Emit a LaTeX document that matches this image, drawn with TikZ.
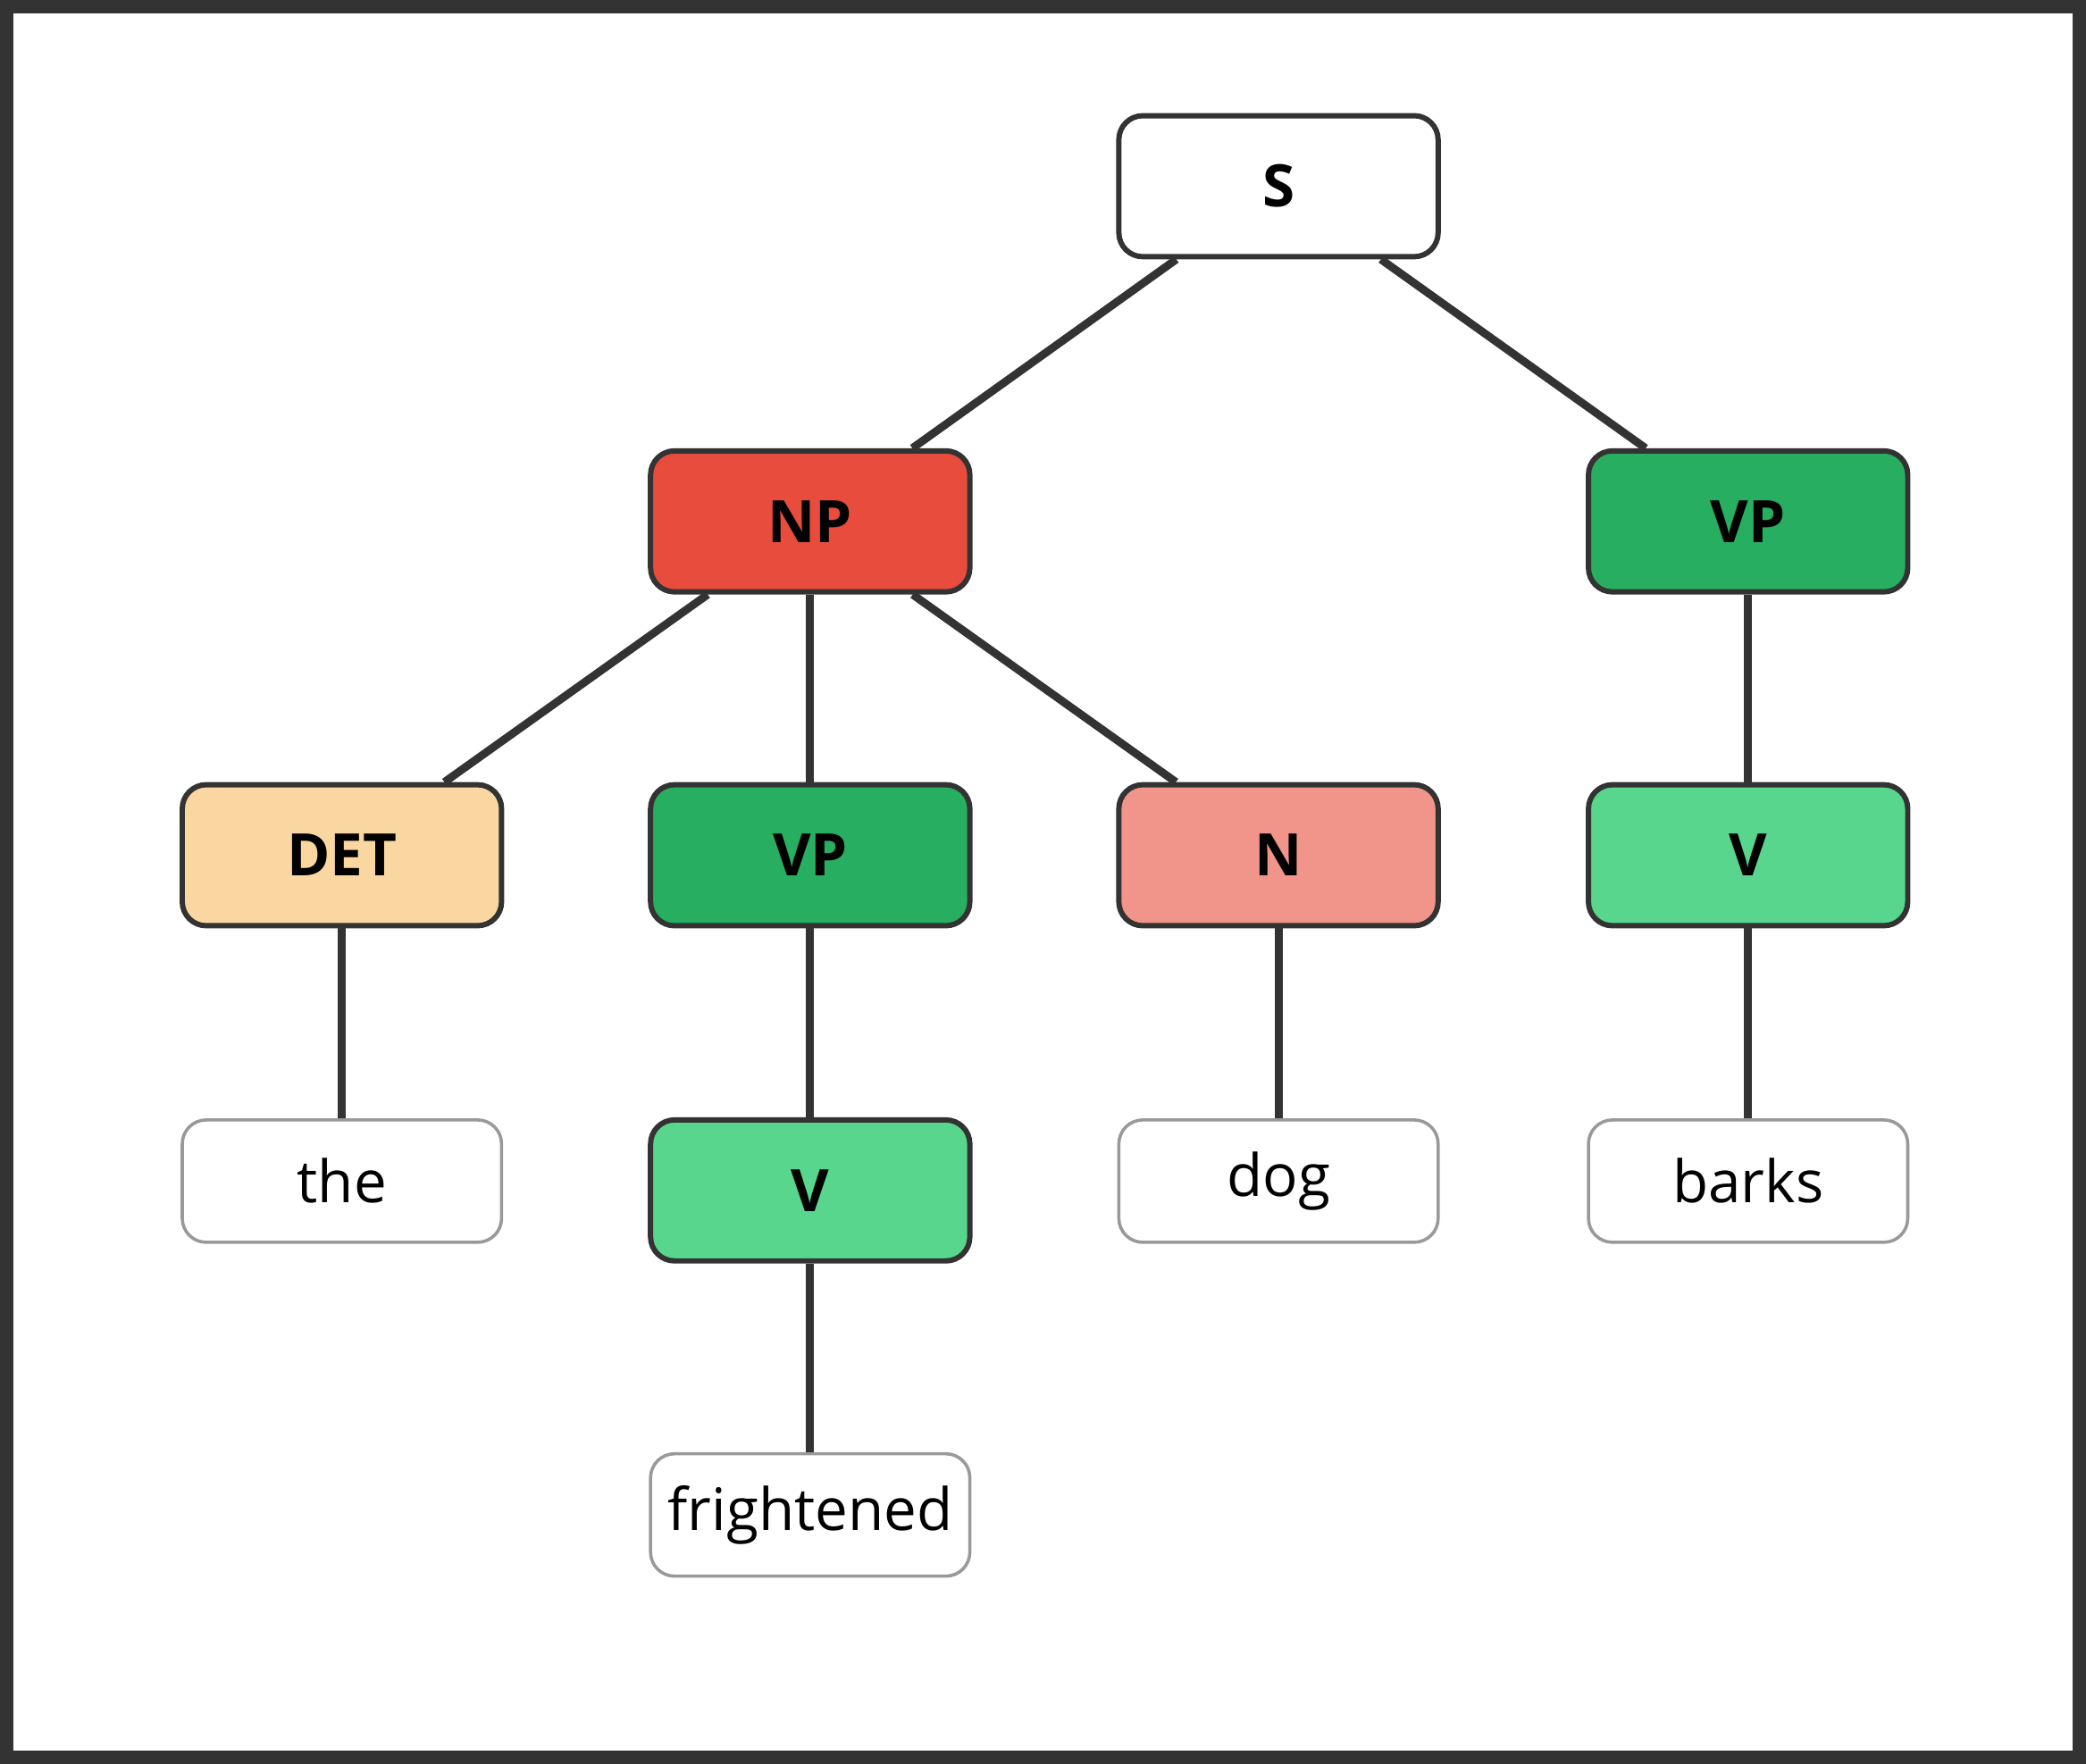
\documentclass[tikz,border=0pt]{standalone}
\usepackage{fontspec}
\setmainfont{Open Sans}
\definecolor{edgegray}{HTML}{333333}
\definecolor{leafgray}{HTML}{999999}
\definecolor{npred}{HTML}{E74C3C}
\definecolor{vpgreen}{HTML}{27AE60}
\definecolor{nred}{HTML}{F1948A}
\definecolor{vgreen}{HTML}{58D68D}
\definecolor{detorange}{HTML}{FAD7A0}
\tikzset{
  cat/.style={draw=edgegray, line width=2pt, rounded corners=9pt,
    minimum width=120pt, minimum height=53pt,
    font=\fontsize{22}{26}\selectfont\bfseries},
  leaf/.style={draw=leafgray, line width=1.2pt, rounded corners=9pt, fill=white,
    minimum width=120pt, minimum height=46pt,
    font=\fontsize{22}{26}\selectfont},
  branch/.style={draw=edgegray, line width=3pt}
}
\begin{document}
\begin{tikzpicture}[x=0.5pt,y=-0.5pt]
  \useasboundingbox (0,0) rectangle (1568,1326);
  \draw[edgegray, line width=5pt] (5,5) rectangle (1563,1321);

  % categories
  \node[cat, fill=white] (s) at (961,140) {S};
  \node[cat, fill=npred] (np) at (609,392) {NP};
  \node[cat, fill=vpgreen] (vp) at (1314,392) {VP};
  \node[cat, fill=detorange] (det) at (257,643) {DET};
  \node[cat, fill=vpgreen] (vpnp) at (609,643) {VP};
  \node[cat, fill=nred] (n) at (961,643) {N};
  \node[cat, fill=vgreen] (vbarks) at (1314,643) {V};
  \node[cat, fill=vgreen] (vfr) at (609,895) {V};

  % words
  \node[leaf] (the) at (257,888) {the};
  \node[leaf] (dog) at (961,888) {dog};
  \node[leaf] (barks) at (1314,888) {barks};
  \node[leaf] (fr) at (609,1139) {frightened};

  % branches
  \draw[branch] (s) -- (np);
  \draw[branch] (s) -- (vp);
  \draw[branch] (np) -- (det);
  \draw[branch] (np) -- (vpnp);
  \draw[branch] (np) -- (n);
  \draw[branch] (vp) -- (vbarks);
  \draw[branch] (det) -- (the);
  \draw[branch] (vpnp) -- (vfr);
  \draw[branch] (n) -- (dog);
  \draw[branch] (vbarks) -- (barks);
  \draw[branch] (vfr) -- (fr);
\end{tikzpicture}
\end{document}
